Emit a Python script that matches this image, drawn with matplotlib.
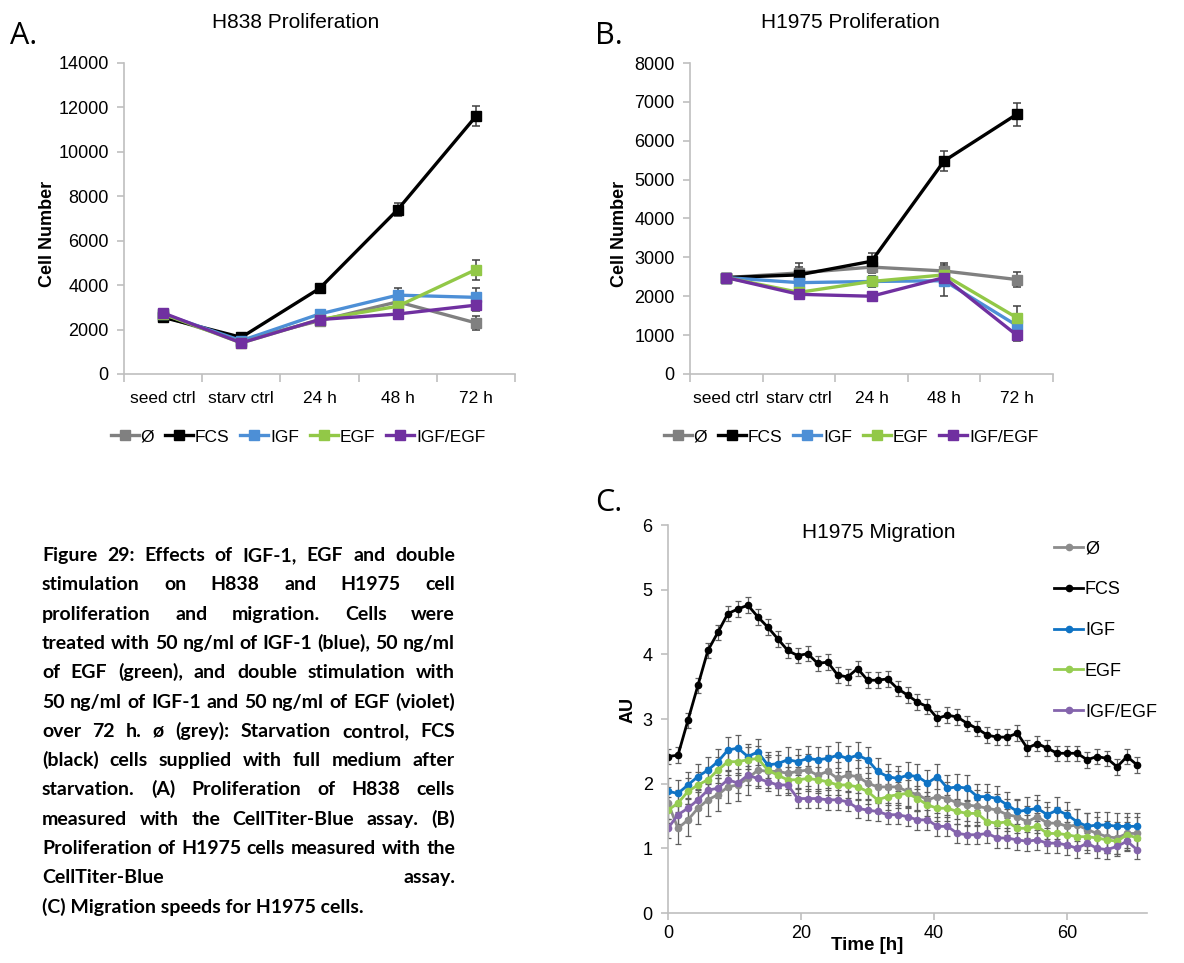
import numpy as np
import matplotlib
matplotlib.use('Agg')
import matplotlib.pyplot as plt

# Figure size in pixels, positions below are given in pixels of the page.
W, H = 1184, 963

def fx(px):
    return px / W

def fy(py):
    return 1 - py / H

# Proliferation data (panels A and B).
categories = ['seed ctrl', 'starv ctrl', '24 h', '48 h', '72 h']
series = ['Ø', 'FCS', 'IGF', 'EGF', 'IGF/EGF']

h838 = {
    'Ø':       [2600, 1500, 2400, 3250, 2300],
    'FCS':     [2550, 1650, 3850, 7400, 11600],
    'IGF':     [2700, 1500, 2700, 3550, 3450],
    'EGF':     [2700, 1400, 2450, 3050, 4700],
    'IGF/EGF': [2750, 1400, 2450, 2700, 3100],
}
h838_err = {
    'Ø':       [100, 100, 150, 300, 300],
    'FCS':     [100, 100, 200, 300, 450],
    'IGF':     [100, 100, 150, 300, 400],
    'EGF':     [100, 100, 150, 250, 450],
    'IGF/EGF': [100, 100, 150, 200, 250],
}
h1975 = {
    'Ø':       [2480, 2600, 2750, 2650, 2430],
    'FCS':     [2480, 2550, 2900, 5480, 6680],
    'IGF':     [2480, 2350, 2380, 2400, 1250],
    'EGF':     [2480, 2100, 2380, 2550, 1450],
    'IGF/EGF': [2480, 2050, 2000, 2480, 1000],
}
h1975_err = {
    'Ø':       [100, 150, 150, 200, 200],
    'FCS':     [100, 300, 200, 250, 300],
    'IGF':     [100, 150, 150, 400, 300],
    'EGF':     [100, 100, 150, 200, 300],
    'IGF/EGF': [100, 100, 100, 150, 150],
}

# Migration data (panel C), one value every 1.5 h.
time_h = np.arange(0, 72, 1.5)
migr = {
    'Ø': [1.70, 1.31, 1.44, 1.62, 1.75, 1.83, 1.95, 1.98, 2.08, 2.21, 2.19, 2.19,
          2.16, 2.19, 2.21, 2.13, 2.19, 2.08, 2.13, 2.11, 2.01, 1.95, 1.95, 1.95,
          1.88, 1.83, 1.75, 1.80, 1.77, 1.70, 1.67, 1.65, 1.62, 1.59, 1.52, 1.49,
          1.41, 1.49, 1.39, 1.39, 1.34, 1.36, 1.29, 1.23, 1.18, 1.16, 1.23, 1.23],
    'FCS': [2.42, 2.44, 2.98, 3.52, 4.06, 4.34, 4.63, 4.70, 4.76, 4.58, 4.42, 4.24,
            4.06, 3.98, 4.01, 3.86, 3.88, 3.68, 3.65, 3.78, 3.60, 3.60, 3.62, 3.47,
            3.37, 3.26, 3.19, 3.01, 3.06, 3.03, 2.93, 2.85, 2.75, 2.72, 2.72, 2.78,
            2.55, 2.62, 2.55, 2.47, 2.47, 2.47, 2.37, 2.42, 2.39, 2.26, 2.42, 2.29],
    'IGF': [1.88, 1.85, 1.98, 2.11, 2.21, 2.34, 2.52, 2.55, 2.42, 2.49, 2.29, 2.31,
            2.37, 2.34, 2.39, 2.37, 2.39, 2.44, 2.39, 2.44, 2.37, 2.19, 2.11, 2.08,
            2.13, 2.11, 2.01, 2.11, 1.93, 1.95, 1.93, 1.80, 1.80, 1.77, 1.67, 1.57,
            1.59, 1.62, 1.52, 1.59, 1.52, 1.41, 1.34, 1.36, 1.36, 1.34, 1.34, 1.34],
    'EGF': [1.59, 1.70, 1.88, 1.98, 2.06, 2.21, 2.34, 2.34, 2.37, 2.39, 2.21, 2.13,
            2.06, 2.06, 2.08, 2.06, 2.03, 1.98, 1.98, 1.95, 1.88, 1.75, 1.80, 1.83,
            1.85, 1.77, 1.67, 1.62, 1.62, 1.57, 1.54, 1.54, 1.41, 1.39, 1.41, 1.31,
            1.31, 1.34, 1.23, 1.23, 1.21, 1.18, 1.18, 1.16, 1.13, 1.11, 1.21, 1.16],
    'IGF/EGF': [1.31, 1.52, 1.62, 1.75, 1.90, 1.93, 2.06, 2.01, 2.13, 2.08, 2.03, 1.98,
                1.98, 1.77, 1.77, 1.77, 1.75, 1.75, 1.72, 1.62, 1.59, 1.57, 1.52, 1.52,
                1.49, 1.44, 1.44, 1.34, 1.34, 1.23, 1.21, 1.21, 1.23, 1.16, 1.16, 1.13,
                1.11, 1.13, 1.08, 1.08, 1.05, 1.00, 1.08, 1.00, 0.98, 1.03, 1.11, 0.98],
}
# typical error bar size per series
migr_err = {'Ø': 0.25, 'FCS': 0.12, 'IGF': 0.2, 'EGF': 0.2, 'IGF/EGF': 0.15}

colors_ab = {'Ø': '#808080', 'FCS': '#000000', 'IGF': '#4d8fd6',
             'EGF': '#92c847', 'IGF/EGF': '#7030a0'}
colors_c = {'Ø': '#8c8c8c', 'FCS': '#000000', 'IGF': '#0f73c4',
            'EGF': '#96cd52', 'IGF/EGF': '#8464ac'}

caption_lines = [
    "Figure 29: Effects of IGF-1, EGF and double",
    "stimulation on H838 and H1975 cell",
    "proliferation and migration. Cells were",
    "treated with 50 ng/ml of IGF-1 (blue), 50 ng/ml",
    "of EGF (green), and double stimulation with",
    "50 ng/ml of IGF-1 and 50 ng/ml of EGF (violet)",
    "over 72 h. ø (grey): Starvation control, FCS",
    "(black) cells supplied with full medium after",
    "starvation. (A) Proliferation of H838 cells",
    "measured with the CellTiter-Blue assay. (B)",
    "Proliferation of H1975 cells measured with the",
    "CellTiter-Blue assay.",
    "(C) Migration speeds for H1975 cells.",
]

plt.rcParams['font.family'] = 'sans-serif'
plt.rcParams['font.sans-serif'] = ['Liberation Sans', 'DejaVu Sans']
AXIS_GREY = '#bfbfbf'

fig = plt.figure(figsize=(W / 100, H / 100), dpi=100)


def _style_axes(ax):
    for side in ['top', 'right']:
        ax.spines[side].set_visible(False)
    for side in ['left', 'bottom']:
        ax.spines[side].set_color(AXIS_GREY)
        ax.spines[side].set_linewidth(1.2)
    ax.tick_params(which='both', color=AXIS_GREY, direction='out', width=1.2)


def _prolif_panel(rect, data, errs, ymax, ystep, title, title_x, legend_x, ylab_x):
    ax = fig.add_axes(rect)
    x = np.arange(len(categories))
    handles = []
    for name in series:
        cont = ax.errorbar(x, data[name], yerr=errs[name], color=colors_ab[name],
                           lw=2.4, marker='s', ms=7.5, elinewidth=1.1,
                           capsize=3, capthick=1.1, ecolor='#404040')
        handles.append(cont[0])
    ax.set_xlim(-0.5, len(categories) - 0.5)
    ax.set_ylim(0, ymax)
    ax.set_yticks(np.arange(0, ymax + 1, ystep))
    ax.set_xticks(x)
    ax.set_xticklabels(categories)
    ax.set_xticks(np.arange(-0.5, len(categories)), minor=True)
    _style_axes(ax)
    ax.tick_params(axis='x', which='major', length=0, pad=12, labelsize=12.5)
    ax.tick_params(axis='x', which='minor', length=6)
    ax.tick_params(axis='y', length=5, pad=6, labelsize=13)
    fig.text(fx(title_x), fy(23), title, ha='center', va='center', fontsize=15)
    fig.text(fx(ylab_x), fy(234), 'Cell Number', rotation=90, ha='center',
             va='center', fontsize=13, fontweight='bold')
    ax.legend(handles, series, loc='center', ncol=5, frameon=False,
              bbox_to_anchor=(fx(legend_x), fy(437)), bbox_transform=fig.transFigure,
              fontsize=12.5, handlelength=1.6, handletextpad=0.1, columnspacing=0.65)
    return ax


# Panel A
_prolif_panel([fx(124), fy(374), fx(515) - fx(124), fy(63) - fy(374)],
              h838, h838_err, 14000, 2000, 'H838 Proliferation', 296, 298, 48)
fig.text(fx(10), fy(36), 'A.', fontsize=22, family='Open Sans', va='center')

# Panel B
_prolif_panel([fx(690), fy(374), fx(1053) - fx(690), fy(63) - fy(374)],
              h1975, h1975_err, 8000, 1000, 'H1975 Proliferation', 850, 851, 619)
fig.text(fx(595), fy(36), 'B.', fontsize=22, family='Open Sans', va='center')

# Panel C
axc = fig.add_axes([fx(668), fy(913), fx(1147) - fx(668), fy(525) - fy(913)])
handles_c = []
for name in series:
    cont = axc.errorbar(time_h, migr[name], yerr=migr_err[name], color=colors_c[name],
                        lw=2.0, marker='o', ms=4.5, elinewidth=0.9, capsize=2.5,
                        capthick=0.9, ecolor='#606060')
    handles_c.append(cont[0])
axc.set_xlim(0, 72)
axc.set_ylim(0, 6)
axc.set_xticks([0, 20, 40, 60])
axc.set_yticks(range(7))
_style_axes(axc)
axc.tick_params(axis='both', length=5, labelsize=13)
axc.tick_params(axis='y', pad=6)
axc.legend(handles_c, series, loc='upper left', frameon=False,
           bbox_to_anchor=(fx(1038), fy(524)), bbox_transform=fig.transFigure,
           fontsize=13, labelspacing=1.32, handlelength=1.6, handletextpad=0.1)
fig.text(fx(879), fy(532), 'H1975 Migration', ha='center', va='center', fontsize=15)
fig.text(fx(867), fy(945), 'Time [h]', ha='center', va='center', fontsize=13.5,
         fontweight='bold')
fig.text(fx(628), fy(710), 'AU', rotation=90, ha='center', va='center',
         fontsize=13, fontweight='bold')
fig.text(fx(595), fy(503), 'C.', fontsize=22, family='Open Sans', va='center')

# Caption, justified between cap_x0 and cap_x1
cap_font = 'Lato'
cap_x0, cap_x1 = 42, 455
cap_y0, cap_dy = 561, 29.3
renderer = fig.canvas.get_renderer()


def _width(s, fs):
    t = fig.text(0, 0, s, fontsize=fs, fontweight='bold', family=cap_font)
    w = t.get_window_extent(renderer).width
    t.remove()
    return w


fs_cap = 10 * (cap_x1 - cap_x0) / max(_width(l, 10) for l in caption_lines) * 0.99

for i, line in enumerate(caption_lines):
    y = fy(cap_y0 + i * cap_dy)
    words = line.split()
    if i == len(caption_lines) - 1:
        fig.text(fx(cap_x0), y, line, fontsize=fs_cap, fontweight='bold',
                 family=cap_font, va='baseline')
        continue
    widths = [_width(w, fs_cap) for w in words]
    gap = (cap_x1 - cap_x0 - sum(widths)) / (len(words) - 1)
    xpos = cap_x0
    for w, wd in zip(words, widths):
        fig.text(fx(xpos), y, w, fontsize=fs_cap, fontweight='bold',
                 family=cap_font, va='baseline')
        xpos += wd + gap

fig.savefig('out.png', dpi=100)
